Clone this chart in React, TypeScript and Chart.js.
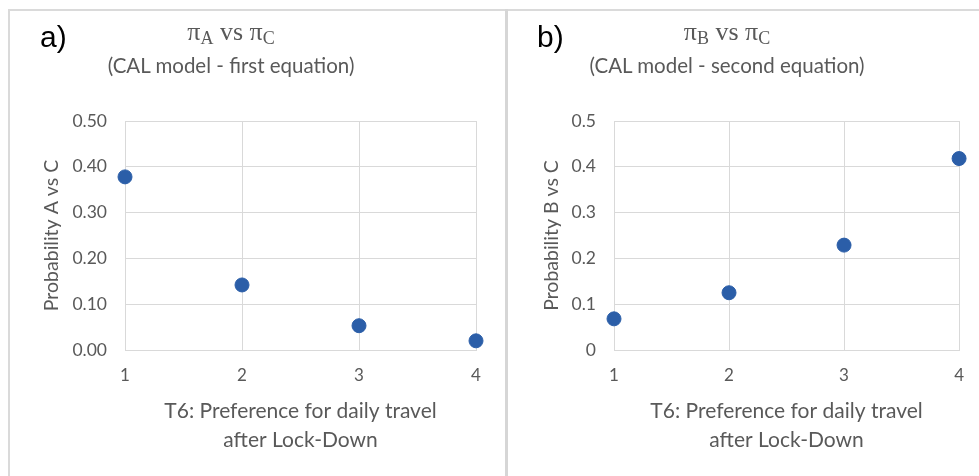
import React, { useEffect, useRef } from "react";
import { Chart, registerables } from "chart.js";

Chart.register(...registerables);

const categories = [1, 2, 3, 4];
const probAvsC = [0.378, 0.142, 0.053, 0.02];
const probBvsC = [0.068, 0.125, 0.229, 0.418];
const xTitle = ["T6: Preference for daily travel", "after Lock-Down"];

const GRID = "#d9d9d9";
const TEXT = "#595959";
const DOT = "#2b5ea8";

function makeConfig(values: number[], yLabel: string, yTitleX: number, fixed: boolean, padRight: number) {
  const yTitleSize = 19.5;
  return {
    type: "scatter" as const,
    data: {
      datasets: [
        {
          data: categories.map((c, i) => ({ x: c, y: values[i] })),
          backgroundColor: DOT,
          borderColor: DOT,
          pointRadius: 7,
          pointHoverRadius: 7,
          clip: false as const,
        },
      ],
    },
    options: {
      animation: false as const,
      responsive: false,
      maintainAspectRatio: false,
      layout: { padding: { top: 109, left: 0, right: padRight, bottom: 0 } },
      plugins: { legend: { display: false }, tooltip: { enabled: false }, title: { display: false } },
      scales: {
        x: {
          type: "linear" as const,
          min: 1,
          max: 4,
          afterFit: (s: any) => {
            s.height = 126;
          },
          ticks: { stepSize: 1, color: TEXT, font: { family: "Lato", size: 17 }, padding: 15 },
          grid: { color: GRID, drawTicks: false, lineWidth: 1 },
          border: { color: GRID, width: 1 },
          title: {
            display: true,
            text: xTitle,
            color: TEXT,
            font: { family: "Lato", size: 21, lineHeight: "29px" },
            padding: { top: 0, bottom: 21 },
          },
        },
        y: {
          type: "linear" as const,
          min: 0,
          max: 0.5,
          afterFit: (s: any) => {
            s.width = fixed ? 115 : 105;
          },
          ticks: {
            stepSize: 0.1,
            color: TEXT,
            font: { family: "Lato", size: 17.5 },
            padding: 18,
            callback: (v: any) => (fixed ? Number(v).toFixed(2) : String(Math.round(Number(v) * 10) / 10)),
          },
          grid: { color: GRID, drawTicks: false, lineWidth: 1 },
          border: { color: GRID, width: 1 },
          title: {
            display: true,
            text: yLabel,
            color: TEXT,
            font: { family: "Lato", size: yTitleSize, lineHeight: 1.2 },
            padding: { top: yTitleX - (yTitleSize * 1.2) / 2, bottom: 0 },
          },
        },
      },
    },
  };
}

function Panel(props: { left: number; width: number; values: number[]; yLabel: string; yTitleX: number; fixed: boolean; padRight: number }) {
  const ref = useRef<HTMLCanvasElement | null>(null);
  useEffect(() => {
    if (!ref.current) return;
    const chart = new Chart(ref.current, makeConfig(props.values, props.yLabel, props.yTitleX, props.fixed, props.padRight) as any);
    return () => chart.destroy();
  }, []);
  return (
    <canvas
      ref={ref}
      width={props.width}
      height={464}
      style={{ position: "absolute", left: props.left, top: 12, width: props.width, height: 464 }}
    />
  );
}

function Title(props: { cx: number; letter: string; lx: number; sub: string; line2: string }) {
  const subStyle = { fontSize: 18, verticalAlign: "-4px" };
  return (
    <>
      <div
        style={{
          position: "absolute",
          left: props.lx,
          top: 20,
          fontFamily: "'Liberation Sans', Arial, sans-serif",
          fontSize: 30,
          lineHeight: "34px",
          color: "#000",
        }}
      >
        {props.letter}
      </div>
      <div
        style={{
          position: "absolute",
          left: props.cx,
          top: 18,
          transform: "translateX(-50%)",
          whiteSpace: "nowrap",
          fontFamily: "'Liberation Serif', 'Times New Roman', serif",
          fontSize: 26,
          lineHeight: "28px",
          color: TEXT,
        }}
      >
        π<sub style={subStyle}>{props.sub}</sub> vs π<sub style={subStyle}>C</sub>
      </div>
      <div
        style={{
          position: "absolute",
          left: props.cx,
          top: 52,
          transform: "translateX(-50%)",
          whiteSpace: "nowrap",
          fontFamily: "Lato, sans-serif",
          fontSize: 20.5,
          lineHeight: "26px",
          color: TEXT,
        }}
      >
        {props.line2}
      </div>
    </>
  );
}

export default function App() {
  return (
    <div style={{ position: "fixed", left: 0, top: 0, width: 979, height: 476, background: "#fff", overflow: "hidden" }}>
      <div style={{ position: "absolute", left: 8, top: 9, width: 971, height: 2, background: "#dadada" }} />
      <div style={{ position: "absolute", left: 8, top: 9, width: 2, height: 467, background: "#dadada" }} />
      <div style={{ position: "absolute", left: 505, top: 9, width: 3, height: 467, background: "#d6d6d6" }} />
      <Panel left={10} width={494} values={probAvsC} yLabel="Probability A vs C" yTitleX={42} fixed={true} padRight={28} />
      <Panel left={509} width={470} values={probBvsC} yLabel="Probability B vs C" yTitleX={43} fixed={false} padRight={17} />
      <Title cx={231} lx={40} letter="a)" sub="A" line2="(CAL model - first equation)" />
      <Title cx={727} lx={537} letter="b)" sub="B" line2="(CAL model - second equation)" />
    </div>
  );
}
